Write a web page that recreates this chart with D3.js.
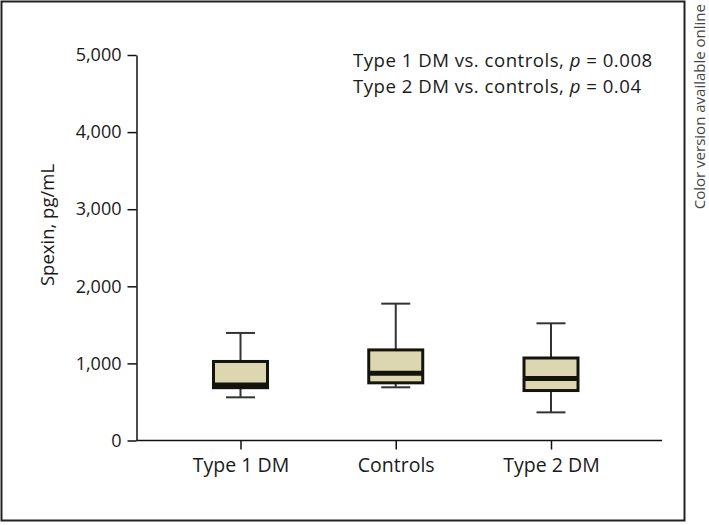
<!DOCTYPE html>
<html><head><meta charset="utf-8">
<script src="https://cdn.jsdelivr.net/npm/d3@7"></script>
<style>body{margin:0;background:#fff}svg{display:block}text{font-family:"Open Sans",sans-serif}</style>
</head><body>
<svg id="c" width="709" height="525"></svg>
<script>
const categories = ["Type 1 DM", "Controls", "Type 2 DM"];
const whiskerLow  = [560, 690, 365];
const q1          = [685, 748, 648];
const median      = [720, 872, 803];
const q3          = [1025, 1175, 1070];
const whiskerHigh = [1395, 1775, 1520];
const yTicks = [0, 1000, 2000, 3000, 4000, 5000];
const yLabel = "Spexin, pg/mL";
const notes = ["Type 1 DM vs. controls, ", "Type 2 DM vs. controls, "];
const pvals = ["0.008", "0.04"];

const svg = d3.select("#c");
svg.append("rect").attr("x",1.5).attr("y",1.5).attr("width",683).attr("height",519)
  .attr("fill","none").attr("stroke","#222").attr("stroke-width",2);

const y = d3.scaleLinear().domain([0,5000]).range([440.5,55]);
const x = d3.scalePoint().domain(categories).range([240.5,551]);
const axisX0 = 136.5, axisX1 = 662;
const txt = "#1a1a1a";

const yAxis = svg.append("g").attr("transform",`translate(${axisX0},0)`)
  .call(d3.axisLeft(y).tickValues(yTicks).tickSize(9).tickPadding(6).tickFormat(d3.format(",")).tickSizeOuter(0));
yAxis.select(".domain").attr("stroke","#111").attr("stroke-width",1.5);
yAxis.selectAll(".tick line").attr("stroke","#111").attr("stroke-width",1.5);
yAxis.selectAll("text").attr("font-size",18).attr("fill",txt).attr("font-family","'Open Sans',sans-serif");

const xAxis = svg.append("g").attr("transform",`translate(0,${y(0)})`)
  .call(d3.axisBottom(x).tickSize(9).tickPadding(9).tickSizeOuter(0));
xAxis.select(".domain").remove();
xAxis.selectAll(".tick line").attr("stroke","#111").attr("stroke-width",1.5);
xAxis.selectAll("text").attr("font-size",19.5).attr("fill",txt).attr("font-family","'Open Sans',sans-serif");
svg.append("line").attr("x1",axisX0).attr("x2",axisX1).attr("y1",y(0)).attr("y2",y(0))
  .attr("stroke","#111").attr("stroke-width",1.5);

svg.append("text").attr("transform","translate(54,225) rotate(-90)").attr("text-anchor","middle")
  .attr("font-size",18.5).attr("fill",txt).text(yLabel);

const boxW = 54, capW = 29;
categories.forEach((c,i)=>{
  const cx = x(c);
  const g = svg.append("g");
  g.append("line").attr("x1",cx).attr("x2",cx).attr("y1",y(whiskerHigh[i])).attr("y2",y(q3[i])).attr("stroke","#333").attr("stroke-width",2);
  g.append("line").attr("x1",cx).attr("x2",cx).attr("y1",y(q1[i])).attr("y2",y(whiskerLow[i])).attr("stroke","#333").attr("stroke-width",2);
  g.append("line").attr("x1",cx-capW/2).attr("x2",cx+capW/2).attr("y1",y(whiskerHigh[i])).attr("y2",y(whiskerHigh[i])).attr("stroke","#333").attr("stroke-width",2);
  g.append("line").attr("x1",cx-capW/2).attr("x2",cx+capW/2).attr("y1",y(whiskerLow[i])).attr("y2",y(whiskerLow[i])).attr("stroke","#333").attr("stroke-width",2);
  g.append("rect").attr("x",cx-boxW/2).attr("width",boxW).attr("y",y(q3[i])).attr("height",y(q1[i])-y(q3[i]))
    .attr("fill","#dcd7b0").attr("stroke","#15140c").attr("stroke-width",3);
  g.append("line").attr("x1",cx-boxW/2).attr("x2",cx+boxW/2).attr("y1",y(median[i])).attr("y2",y(median[i])).attr("stroke","#15140c").attr("stroke-width",5);
});

const note = svg.append("text").attr("x",353).attr("y",67).attr("font-size",18.6)
  .attr("letter-spacing",0.5).attr("fill",txt);
notes.forEach((n,i)=>{
  note.append("tspan").attr("x",353).attr("dy", i===0 ? 0 : 25.6).text(n);
  note.append("tspan").attr("font-style","italic").text("p");
  note.append("tspan").text(" = "+pvals[i]);
});

svg.append("text").attr("transform","translate(705,4) rotate(-90)").attr("text-anchor","end")
  .attr("font-size",15).attr("fill","#444").text("Color version available online");
</script>
</body></html>
